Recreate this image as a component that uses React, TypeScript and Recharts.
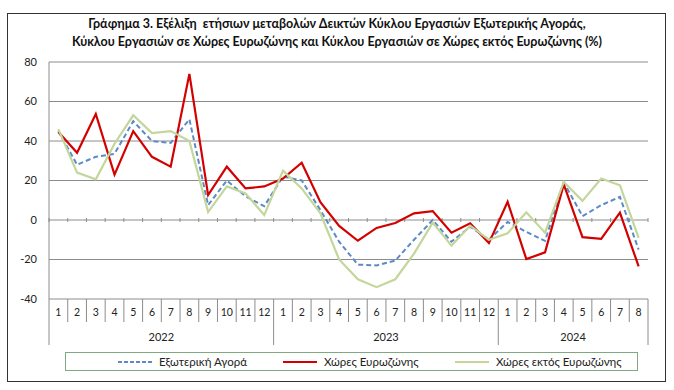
import React from 'react';
import { LineChart, Line, XAxis, YAxis, CartesianGrid, ReferenceLine } from 'recharts';

const MONTHS = [
  '1', '2', '3', '4', '5', '6', '7', '8', '9', '10', '11', '12',
  '1', '2', '3', '4', '5', '6', '7', '8', '9', '10', '11', '12',
  '1', '2', '3', '4', '5', '6', '7', '8',
];
const YEARS = [
  { label: '2022', start: 0, count: 12 },
  { label: '2023', start: 12, count: 12 },
  { label: '2024', start: 24, count: 8 },
];

const EXTERNAL = [
  45, 28, 32, 33.5, 50, 40, 39, 51, 7.5, 20, 12, 7,
  22, 20, 5, -11, -22.6, -23, -20.5, -10, 0, -11, -3.4, -10,
  -1, -6, -10.6, 19, 2, 7.5, 11.7, -15,
];
const EUROZONE = [
  44.5, 34, 53.7, 23, 45, 32, 27, 74, 12.6, 27, 16, 17,
  21, 29, 9, -3, -10.5, -4, -1.5, 3.4, 4.5, -6.4, -1.7, -11.7,
  9.2, -19.8, -16.4, 18, -8.7, -9.6, 3.7, -23.5,
];
const NON_EUROZONE = [
  46, 24, 20.6, 38.6, 53, 44, 45, 40, 4, 17, 13.4, 2.5,
  25, 16, 3.4, -20, -30, -34, -30, -17, -1.3, -13, -2.9, -10,
  -6.7, 3.9, -6.4, 19.3, 9.7, 21, 17.6, -9,
];
const Y_TICKS = [-40, -20, 0, 20, 40, 60, 80];

const SERIES = [
  { key: 'external', name: 'Εξωτερική Αγορά', color: '#5b8ac6', dash: '5 3', width: 2 },
  { key: 'eurozone', name: 'Χώρες Ευρωζώνης', color: '#d40000', dash: undefined, width: 2.2 },
  { key: 'nonEurozone', name: 'Χώρες εκτός Ευρωζώνης', color: '#c3d69b', dash: undefined, width: 2.2 },
];

const data = MONTHS.map((m, i) => ({
  month: m,
  external: EXTERNAL[i],
  eurozone: EUROZONE[i],
  nonEurozone: NON_EUROZONE[i],
}));

const W = 674;
const H = 390;
const MARGIN = { top: 62, right: 26, bottom: 41, left: 0 };
const Y_AXIS_W = 49;
const BAND = (W - MARGIN.right - Y_AXIS_W) / MONTHS.length;
const FONT = 'Lato, "Open Sans", sans-serif';
const LINE_GRAY = '#8c8c8c';

// month label cells + year row, drawn below the plot
const MonthTick = (props: any) => {
  const { x, y, payload } = props;
  const i = payload.index;
  const left = x - BAND / 2;
  const year = YEARS.find((g) => g.start === i);
  const isYearStart = !!year;
  return (
    <g>
      <line x1={left} x2={left} y1={y} y2={isYearStart ? y + 46 : y + 23} stroke={LINE_GRAY} />
      {i === MONTHS.length - 1 && (
        <line x1={x + BAND / 2} x2={x + BAND / 2} y1={y} y2={y + 46} stroke={LINE_GRAY} />
      )}
      <text x={x} y={y + 17} textAnchor="middle" fontSize={10.5} fill="#222" fontFamily={FONT}>
        {payload.value}
      </text>
      {year && (
        <text x={left + (year.count * BAND) / 2} y={y + 42} textAnchor="middle" fontSize={11} fill="#222" fontFamily={FONT}>
          {year.label}
        </text>
      )}
    </g>
  );
};

// zero line with small category tick marks
const ZeroLine = (props: any) => {
  const { x1, x2, y1 } = props;
  const ticks = [];
  for (let i = 0; i <= MONTHS.length; i++) {
    const tx = x1 + i * BAND;
    ticks.push(<line key={i} x1={tx} x2={tx} y1={y1 - 2} y2={y1 + 2} stroke={LINE_GRAY} />);
  }
  return (
    <g>
      <line x1={x1} x2={x2} y1={y1} y2={y1} stroke={LINE_GRAY} />
      {ticks}
    </g>
  );
};

const App: React.FC = () => {
  return (
    <div style={{ position: 'fixed', left: 0, top: 0, width: W, height: H, background: '#fff', fontFamily: FONT }}>
      <div style={{ position: 'absolute', left: 7, top: 13, width: 659, height: 369, border: '1px solid #333', boxSizing: 'border-box' }} />
      <div style={{ position: 'absolute', left: 0, top: 15, width: W, textAlign: 'center', fontSize: 12.5, fontWeight: 700, lineHeight: '18px', color: '#111' }}>
        Γράφημα 3. Εξέλιξη&nbsp; ετήσιων μεταβολών Δεικτών Κύκλου Εργασιών Εξωτερικής Αγοράς,
        <br />
        Κύκλου Εργασιών σε Χώρες Ευρωζώνης και Κύκλου Εργασιών σε Χώρες εκτός Ευρωζώνης (%)
      </div>
      <div style={{ position: 'absolute', left: 0, top: 0 }}>
        <LineChart width={W} height={H} data={data} margin={MARGIN}>
          <CartesianGrid vertical={false} stroke={LINE_GRAY} horizontalValues={[-40, -20, 20, 40, 60, 80]} />
          <YAxis
            domain={[-40, 80]}
            ticks={Y_TICKS}
            width={Y_AXIS_W}
            axisLine={{ stroke: LINE_GRAY }}
            tickLine={false}
            tick={{ fontSize: 11, fill: '#222', fontFamily: FONT }}
            tickMargin={6}
          />
          <XAxis
            dataKey="month"
            interval={0}
            height={50}
            padding={{ left: BAND / 2, right: BAND / 2 }}
            axisLine={false}
            tickLine={false}
            tickSize={0}
            tickMargin={0}
            tick={<MonthTick />}
          />
          <ReferenceLine y={0} shape={<ZeroLine />} />
          {SERIES.map((s) => (
            <Line
              key={s.key}
              type="linear"
              dataKey={s.key}
              name={s.name}
              stroke={s.color}
              strokeWidth={s.width}
              strokeDasharray={s.dash}
              dot={false}
              isAnimationActive={false}
            />
          ))}
        </LineChart>
      </div>
      <div style={{ position: 'absolute', left: 65, top: 352, width: 573, height: 19, border: '1px solid #7fa97f', boxSizing: 'border-box', display: 'flex', alignItems: 'center', fontSize: 11.5, color: '#222' }}>
        {SERIES.map((s, i) => (
          <div key={s.key} style={{ position: 'absolute', left: [52, 217, 389][i], display: 'flex', alignItems: 'center' }}>
            <svg width={34} height={6} style={{ marginRight: 7 }}>
              <line x1={0} x2={34} y1={3} y2={3} stroke={s.color} strokeWidth={2.2} strokeDasharray={s.dash ? '4 2' : undefined} />
            </svg>
            <span>{s.name}</span>
          </div>
        ))}
      </div>
    </div>
  );
};

export default App;
